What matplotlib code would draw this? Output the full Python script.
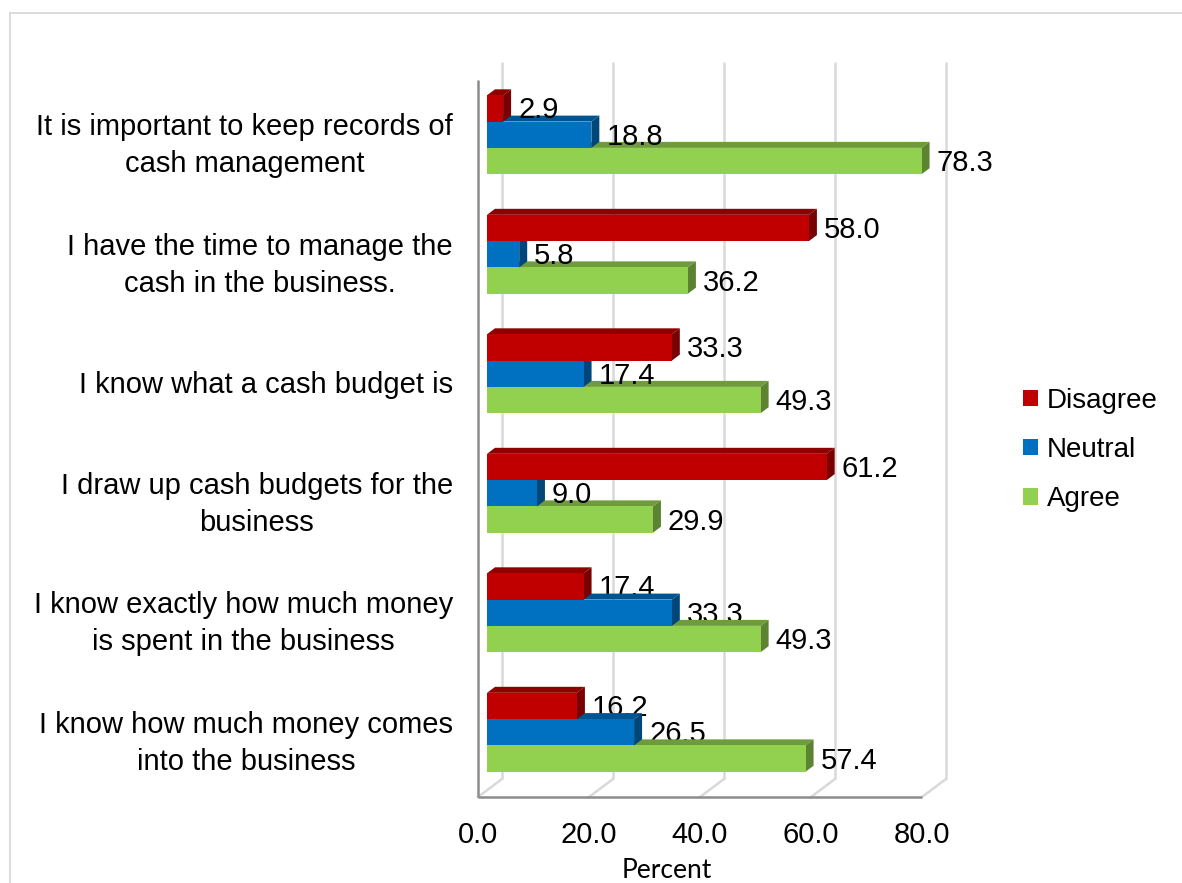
import matplotlib
matplotlib.use("Agg")
import matplotlib.pyplot as plt
from matplotlib.patches import Polygon, Patch
from matplotlib.lines import Line2D
from matplotlib.transforms import ScaledTranslation
from matplotlib.colors import to_rgb

plt.rcParams["font.family"] = ["Liberation Sans", "DejaVu Sans"]

# ---- data -------------------------------------------------------------
statements = [
    "It is important to keep records of\ncash management",
    "I have the time to manage the\ncash in the business.",
    "I know what a cash budget is",
    "I draw up cash budgets for the\nbusiness",
    "I know exactly how much money\nis spent in the business",
    "I know how much money comes\ninto the business",
]
disagree = [2.9, 58.0, 33.3, 61.2, 17.4, 16.2]
neutral = [18.8, 5.8, 17.4, 9.0, 33.3, 26.5]
agree = [78.3, 36.2, 49.3, 29.9, 49.3, 57.4]
series_names = ["Disagree", "Neutral", "Agree"]
series_values = [disagree, neutral, agree]
series_colors = ["#C00000", "#0070C0", "#92D050"]
x_ticks = [0, 20, 40, 60, 80]
x_tick_labels = ["0.0", "20.0", "40.0", "60.0", "80.0"]
x_title = "Percent"

# ---- figure / front plane of the 3-D frame ----------------------------
W, H, DPI = 1182, 883, 100
fig = plt.figure(figsize=(W / DPI, H / DPI), dpi=DPI)
fig.patch.set_facecolor("white")

L, R, T, B = 478, 922, 80, 797          # plot box in pixels
ax = fig.add_axes([L / W, 1 - B / H, (R - L) / W, (B - T) / H])
n = len(statements)
ax.set_xlim(0, 80)
ax.set_ylim(n - 0.5, -0.5)
for s in ax.spines.values():
    s.set_visible(False)
ax.set_yticks([])
ax.set_xticks(x_ticks, x_tick_labels)
ax.tick_params(axis="x", length=0, pad=17, labelsize=21, colors="black")

px_x = (R - L) / 80.0          # pixels per percent
px_y = (B - T) / n             # pixels per category


def dx(p):
    return p / px_x


def dy(p):                      # upwards on screen = smaller y value
    return -p / px_y


grid_c = "#D9D9D9"
axis_c = "#8C8C8C"
DEPTH_X, DEPTH_Y = 24, 18       # depth of the chart floor (pixels)

# back wall gridlines and floor lines
for t in x_ticks:
    ax.plot([t + dx(DEPTH_X)] * 2, [-0.5 + dy(DEPTH_Y), n - 0.5 + dy(DEPTH_Y)],
            color=grid_c, lw=1.8, zorder=1, solid_capstyle="butt", clip_on=False)
    ax.plot([t, t + dx(DEPTH_X)], [n - 0.5, n - 0.5 + dy(DEPTH_Y)],
            color=grid_c, lw=1.8, zorder=1, clip_on=False)
# front axis lines
ax.plot([0, 0], [-0.5, n - 0.5], color=axis_c, lw=1.8, zorder=2,
        solid_capstyle="butt", clip_on=False)
ax.plot([0, 80], [n - 0.5, n - 0.5], color=axis_c, lw=1.8, zorder=2,
        solid_capstyle="butt", clip_on=False)

# ---- 3-D bars ------------------------------------------------------------
bar_plane = ax.transData + ScaledTranslation(9 / DPI, 5 / DPI, fig.dpi_scale_trans)
bar_h = 0.22
BD_X, BD_Y = 8, 6               # bar depth in pixels


def shade(c, f):
    r, g, b = to_rgb(c)
    return (r * f, g * f, b * f)


for j in [2, 1, 0]:
    vals = series_values[j]
    col = series_colors[j]
    for i, v in enumerate(vals):
        yc = i + (j - 1) * bar_h
        top, bot = yc - bar_h / 2, yc + bar_h / 2
        z = 3 + i * 10 + (2 - j) * 3
        top_face = Polygon([(0, top), (v, top), (v + dx(BD_X), top + dy(BD_Y)),
                            (dx(BD_X), top + dy(BD_Y))], closed=True,
                           facecolor=shade(col, 0.75), edgecolor="none",
                           transform=bar_plane, zorder=z, clip_on=False)
        side_face = Polygon([(v, top), (v + dx(BD_X), top + dy(BD_Y)),
                             (v + dx(BD_X), bot + dy(BD_Y)), (v, bot)], closed=True,
                            facecolor=shade(col, 0.63), edgecolor="none",
                            transform=bar_plane, zorder=z, clip_on=False)
        ax.add_patch(top_face)
        ax.add_patch(side_face)
        ax.barh(yc, v, height=bar_h, left=0, color=col, edgecolor="none",
                transform=bar_plane, zorder=z + 1, clip_on=False)
        ax.annotate(f"{v:.1f}", xy=(v, yc), xycoords=bar_plane,
                    xytext=(15, -10), textcoords="offset pixels",
                    ha="left", va="baseline", fontsize=21, color="black",
                    zorder=40, annotation_clip=False)

# ---- category labels ---------------------------------------------------
for i, lab in enumerate(statements):
    ax.annotate(lab, xy=(0, i), xycoords="data", xytext=(-25, -6),
                textcoords="offset pixels", ha="right", va="center",
                multialignment="center", fontsize=21, linespacing=1.42,
                annotation_clip=False)

# ---- axis title ----------------------------------------------------------
ax.set_xlabel(x_title, fontsize=19, family=["Lato", "DejaVu Sans"])
ax.xaxis.label.set_va("baseline")
ax.xaxis.set_label_coords((667 - L) / (R - L), -(878 - B) / (B - T))

# ---- legend -------------------------------------------------------------
handles = [Patch(facecolor=c, edgecolor="none", label=nm)
           for nm, c in zip(series_names, series_colors)]
fig.legend(handles=handles, loc="center left",
           bbox_to_anchor=(1023 / W, 1 - 450 / H), frameon=False,
           borderpad=0, borderaxespad=0, handlelength=0.54, handleheight=0.54,
           handletextpad=0.33, labelspacing=0.83, fontsize=20)

# ---- chart area outline ---------------------------------------------------
fig.add_artist(Line2D([10 / W, 10 / W], [0, 1 - 13 / H], color=grid_c, lw=1.3,
                      transform=fig.transFigure))
fig.add_artist(Line2D([10 / W, 1], [1 - 13 / H, 1 - 13 / H], color=grid_c, lw=1.3,
                      transform=fig.transFigure))

fig.savefig("out.png", dpi=DPI)
